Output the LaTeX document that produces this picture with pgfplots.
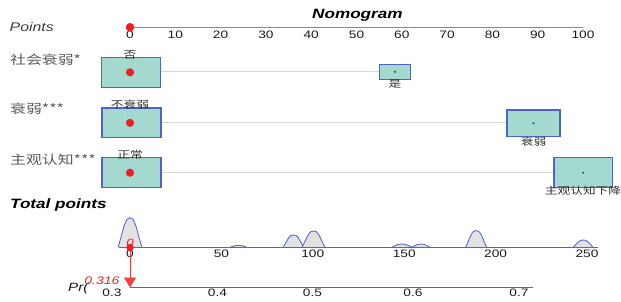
\documentclass[border=0pt]{standalone}
\usepackage{fontspec}
\setmainfont{Liberation Sans}
\newfontfamily\cjk{Noto Sans CJK SC}
\usepackage{graphicx}
\usepackage{pgfplots}
\usepackage{pgfplotstable}
\pgfplotsset{compat=1.18}
\usetikzlibrary{arrows.meta}
\definecolor{boxfill}{HTML}{A3D9CF}
\definecolor{boxedge}{HTML}{5063C6}
\definecolor{bumpfill}{HTML}{E2E2E2}
\definecolor{bumpline}{HTML}{5A6BC8}
\definecolor{axgray}{HTML}{8A8A8A}
\definecolor{axdark}{HTML}{6A6A6A}
\definecolor{linkgray}{HTML}{D6D6D6}
\definecolor{txt}{HTML}{1A1A1A}
\definecolor{lbl}{HTML}{5A5A5A}
\definecolor{myred}{HTML}{F01E1E}
\newcommand{\hs}[1]{\scalebox{1.27}[1]{#1}}
% density bumps over total points: t = total points, h = height
\pgfplotstableread{
t h
-6.5 0
-4.9 10.3
-3.25 21.2
-1.6 28
0 29.5
1.6 28
3.25 21.2
4.9 10.3
6.5 0
}\bumpA
\pgfplotstableread{
t h
54.7 0
57 1.4
59.4 2
61.7 1.4
64 0
}\bumpB
\pgfplotstableread{
t h
83.8 0
85.2 4.3
86.6 8.9
88.0 11.7
89.45 12.3
90.9 11.7
92.3 8.9
93.7 4.3
95.1 0
}\bumpC
\pgfplotstableread{
t h
94.1 0
95.7 5.7
97.25 11.7
98.8 15.5
100.4 16.3
102 15.5
103.55 11.7
105.1 5.7
106.7 0
}\bumpD
\pgfplotstableread{
t h
143.2 0
145.9 2.4
148.7 3.3
151.5 2.4
154.2 0
}\bumpE
\pgfplotstableread{
t h
154.2 0
156.7 2.4
159.2 3.3
161.6 2.4
164.1 0
}\bumpF
\pgfplotstableread{
t h
183.6 0
185.0 5.8
186.5 12
187.9 15.9
189.4 16.7
190.8 15.9
192.3 12
193.7 5.8
195.1 0
}\bumpG
\pgfplotstableread{
t h
242.4 0
243.8 2.6
245.2 5.3
246.5 6.9
247.9 7.3
249.3 6.9
250.6 5.3
252 2.6
253.3 0
}\bumpH
\pgfplotsset{bump/.style={smooth, fill=bumpfill, draw=bumpline, line width=0.9pt}}
\begin{document}
\begin{tikzpicture}
\begin{axis}[
  width=621pt, height=302pt, scale only axis,
  xmin=-28.70, xmax=108.39, ymin=0, ymax=302, y dir=reverse,
  hide axis, clip=false]
% titles and row labels
\node[font=\fontsize{13.5}{14}\selectfont\bfseries\itshape, text=black] at (axis cs:50.2,15) {\hs{Nomogram}};
\node[anchor=west, inner sep=0, font=\fontsize{12.5}{13}\selectfont\itshape, text=txt!85] at (axis cs:-26.6,27) {\hs{Points}};
\node[anchor=west, inner sep=0, font=\fontsize{13.5}{14}\selectfont\bfseries\itshape, text=black] at (axis cs:-26.5,205) {\hs{Total points}};
\node[anchor=west, inner sep=0, font=\fontsize{12.5}{13}\selectfont\cjk, text=lbl] at (axis cs:-26.5,60) {\hs{社会衰弱*}};
\node[anchor=west, inner sep=0, font=\fontsize{12.5}{13}\selectfont\cjk, text=lbl] at (axis cs:-26.5,109) {\hs{衰弱***}};
\node[anchor=west, inner sep=0, font=\fontsize{12.5}{13}\selectfont\cjk, text=lbl] at (axis cs:-26.5,160) {\hs{主观认知***}};
% Points scale
\addplot[axgray, line width=1.5pt] coordinates {(0,27.7) (100,27.7)};
\node[font=\fontsize{10.8}{11}\selectfont, text=txt] at (axis cs:0,34.5) {\hs{0}};
\node[font=\fontsize{10.8}{11}\selectfont, text=txt] at (axis cs:10,34.5) {\hs{10}};
\node[font=\fontsize{10.8}{11}\selectfont, text=txt] at (axis cs:20,34.5) {\hs{20}};
\node[font=\fontsize{10.8}{11}\selectfont, text=txt] at (axis cs:30,34.5) {\hs{30}};
\node[font=\fontsize{10.8}{11}\selectfont, text=txt] at (axis cs:40,34.5) {\hs{40}};
\node[font=\fontsize{10.8}{11}\selectfont, text=txt] at (axis cs:50,34.5) {\hs{50}};
\node[font=\fontsize{10.8}{11}\selectfont, text=txt] at (axis cs:60,34.5) {\hs{60}};
\node[font=\fontsize{10.8}{11}\selectfont, text=txt] at (axis cs:70,34.5) {\hs{70}};
\node[font=\fontsize{10.8}{11}\selectfont, text=txt] at (axis cs:80,34.5) {\hs{80}};
\node[font=\fontsize{10.8}{11}\selectfont, text=txt] at (axis cs:90,34.5) {\hs{90}};
\node[font=\fontsize{10.8}{11}\selectfont, text=txt] at (axis cs:100,34.5) {\hs{100}};
\addplot[only marks, mark=*, mark size=4pt, myred, mark options={draw=myred, fill=myred}] coordinates {(0,27.2)};
% connecting lines
\addplot[linkgray, line width=1.2pt] coordinates {(0,71.8) (58.5,71.8)};
\addplot[linkgray, line width=1.2pt] coordinates {(0,122.8) (89.07,122.8)};
\addplot[linkgray, line width=1.2pt] coordinates {(0,172.7) (100.03,172.7)};
% boxes
\addplot[fill=boxfill, draw=boxedge, line width=1.4pt] coordinates {(-6.25,57.3) (6.78,57.3) (6.78,87.3) (-6.25,87.3)} -- cycle;
\addplot[fill=boxfill, draw=boxedge, line width=1.4pt] coordinates {(55.03,64.3) (61.97,64.3) (61.97,79.3) (55.03,79.3)} -- cycle;
\addplot[fill=boxfill, draw=boxedge, line width=1.4pt] coordinates {(-6.18,108) (6.84,108) (6.84,137.7) (-6.18,137.7)} -- cycle;
\addplot[fill=boxfill, draw=boxedge, line width=1.4pt] coordinates {(83.22,110) (94.92,110) (94.92,136.7) (83.22,136.7)} -- cycle;
\addplot[fill=boxfill, draw=boxedge, line width=1.4pt] coordinates {(-6.18,157.7) (6.84,157.7) (6.84,187.7) (-6.18,187.7)} -- cycle;
\addplot[fill=boxfill, draw=boxedge, line width=1.4pt] coordinates {(93.6,157.7) (106.47,157.7) (106.47,187.7) (93.6,187.7)} -- cycle;
% centre marks
\addplot[only marks, mark=*, mark size=0.8pt, black!70] coordinates {(58.5,71.8) (89.07,123.3) (100.03,172.7)};
\addplot[only marks, mark=*, mark size=3.8pt, myred, mark options={draw=myred, fill=myred}] coordinates {(0,72.3) (0,122.8) (0,172.7)};
% box labels
\node[font=\fontsize{10}{11}\selectfont\cjk, text=txt!90] at (axis cs:0,54.5) {\hs{否}};
\node[font=\fontsize{10}{11}\selectfont\cjk, text=txt!90] at (axis cs:58.5,84.3) {\hs{是}};
\node[font=\fontsize{10}{11}\selectfont\cjk, text=txt!90] at (axis cs:0,105) {\hs{不衰弱}};
\node[font=\fontsize{10}{11}\selectfont\cjk, text=txt!90] at (axis cs:89.1,141.5) {\hs{衰弱}};
\node[font=\fontsize{10}{11}\selectfont\cjk, text=txt!90] at (axis cs:0,155) {\hs{正常}};
\node[font=\fontsize{10}{11}\selectfont\cjk, text=txt!90] at (axis cs:100,191) {\hs{主观认知下降}};
% density bumps over the total points scale
\addplot[bump] table[x expr=\thisrow{t}*0.40353, y expr=247.3-\thisrow{h}] {\bumpA};
\addplot[bump] table[x expr=\thisrow{t}*0.40353, y expr=247.3-\thisrow{h}] {\bumpB};
\addplot[bump] table[x expr=\thisrow{t}*0.40353, y expr=247.3-\thisrow{h}] {\bumpC};
\addplot[bump] table[x expr=\thisrow{t}*0.40353, y expr=247.3-\thisrow{h}] {\bumpD};
\addplot[bump] table[x expr=\thisrow{t}*0.40353, y expr=247.3-\thisrow{h}] {\bumpE};
\addplot[bump] table[x expr=\thisrow{t}*0.40353, y expr=247.3-\thisrow{h}] {\bumpF};
\addplot[bump] table[x expr=\thisrow{t}*0.40353, y expr=247.3-\thisrow{h}] {\bumpG};
\addplot[bump] table[x expr=\thisrow{t}*0.40353, y expr=247.3-\thisrow{h}] {\bumpH};
% Total points scale
\addplot[axdark, line width=1pt] coordinates {(-2.4,247.3) (103.3,247.3)};
\node[font=\fontsize{10.8}{11}\selectfont, text=txt] at (axis cs:0,253.5) {\hs{0}};
\node[font=\fontsize{10.8}{11}\selectfont, text=txt] at (axis cs:20.18,253.5) {\hs{50}};
\node[font=\fontsize{10.8}{11}\selectfont, text=txt] at (axis cs:40.35,253.5) {\hs{100}};
\node[font=\fontsize{10.8}{11}\selectfont, text=txt] at (axis cs:60.53,253.5) {\hs{150}};
\node[font=\fontsize{10.8}{11}\selectfont, text=txt] at (axis cs:80.71,253.5) {\hs{200}};
\node[font=\fontsize{10.8}{11}\selectfont, text=txt] at (axis cs:100.88,253.5) {\hs{250}};
% Pr scale
\addplot[axdark, line width=1pt] coordinates {(0,287.7) (88.96,287.7)};
\node[font=\fontsize{10.8}{11}\selectfont, text=txt] at (axis cs:-3.97,292.5) {\hs{0.3}};
\node[font=\fontsize{10.8}{11}\selectfont, text=txt] at (axis cs:19.32,292.5) {\hs{0.4}};
\node[font=\fontsize{10.8}{11}\selectfont, text=txt] at (axis cs:40.29,292.5) {\hs{0.5}};
\node[font=\fontsize{10.8}{11}\selectfont, text=txt] at (axis cs:62.47,292.5) {\hs{0.6}};
\node[font=\fontsize{10.8}{11}\selectfont, text=txt] at (axis cs:85.87,292.5) {\hs{0.7}};
\node[font=\fontsize{12}{12}\selectfont\itshape, text=txt] at (axis cs:-11.4,288.5) {\hs{Pr(}};
% red observation marks
\addplot[myred!85, line width=0.8pt, -{Triangle[width=12pt,length=10pt]}] coordinates {(0,249) (0,287.5)};
\addplot[only marks, mark=*, mark size=3.5pt, myred, mark options={draw=myred, fill=myred}] coordinates {(0,247.5)};
\node[font=\fontsize{10.5}{11}\selectfont\itshape, text=myred] at (axis cs:0,242.5) {\hs{0}};
\node[font=\fontsize{11}{11}\selectfont\itshape, text=myred] at (axis cs:-6.2,280.5) {\hs{0.316}};
\end{axis}
\pgfresetboundingbox
\path[use as bounding box] (current axis.south west) rectangle (current axis.north east);
\end{tikzpicture}
\end{document}
